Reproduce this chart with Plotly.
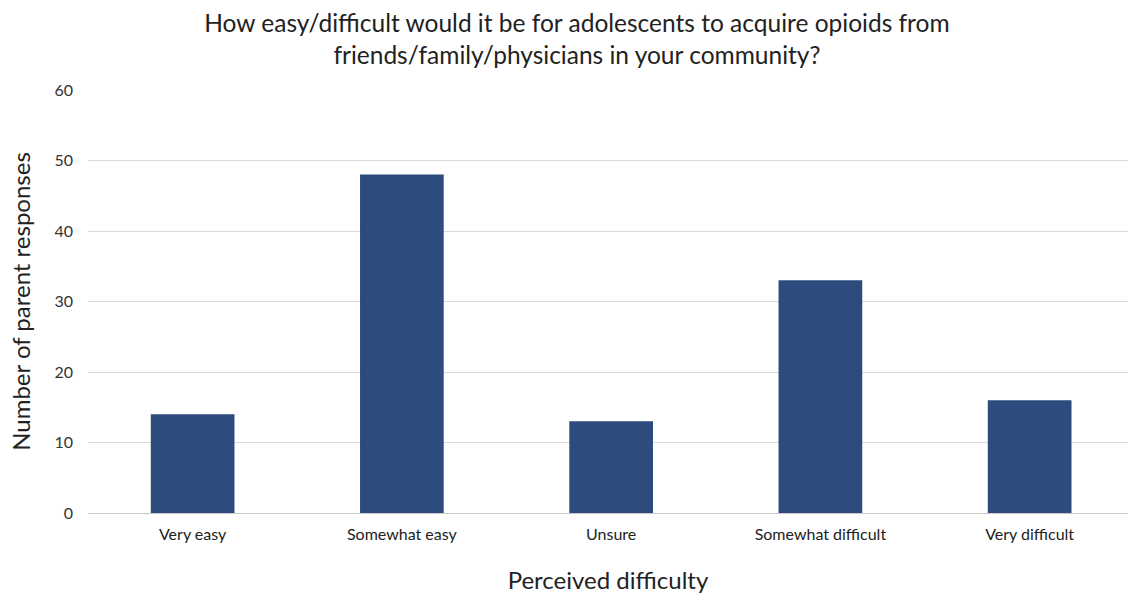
import plotly.graph_objects as go

categories = ["Very easy", "Somewhat easy", "Unsure", "Somewhat difficult", "Very difficult"]
responses = [14, 48, 13, 33, 16]
y_ticks = [0, 10, 20, 30, 40, 50, 60]

FONT = "Lato"
TXT = "#404040"

fig = go.Figure(go.Bar(
    x=categories, y=responses,
    marker=dict(color="#2E4B7E", line=dict(width=0)),
    width=0.4,
))

fig.update_layout(
    width=1129, height=594,
    margin=dict(l=88, r=1, t=90, b=81),
    paper_bgcolor="white", plot_bgcolor="white",
    font=dict(family=FONT, color=TXT),
    showlegend=False,
    title=dict(
        text="How easy/difficult would it be for adolescents to acquire opioids from<br>friends/family/physicians in your community?",
        x=0.511, xanchor="center", y=0.946, yanchor="top",
        font=dict(family=FONT, size=24.5, color="#222222"),
    ),
    xaxis=dict(
        range=[-0.5, 4.47],
        showgrid=False, ticks="", showline=False,
        tickfont=dict(size=16, color="#222222"),
        ticklabelstandoff=10,
        title=dict(text="Perceived difficulty", font=dict(size=24, color="#222222"), standoff=30),
    ),
    yaxis=dict(
        range=[0, 60], tickvals=y_ticks,
        showgrid=True, gridcolor="#D9D9D9", gridwidth=1,
        zeroline=True, zerolinecolor="#C8C8C8", zerolinewidth=1,
        showline=False, ticks="",
        tickfont=dict(size=16, color="#333333"),
        ticklabelstandoff=14,
        title=dict(text="Number of parent responses", font=dict(size=24, color="#222222"), standoff=17),
    ),
)

fig.write_html("out.html")
